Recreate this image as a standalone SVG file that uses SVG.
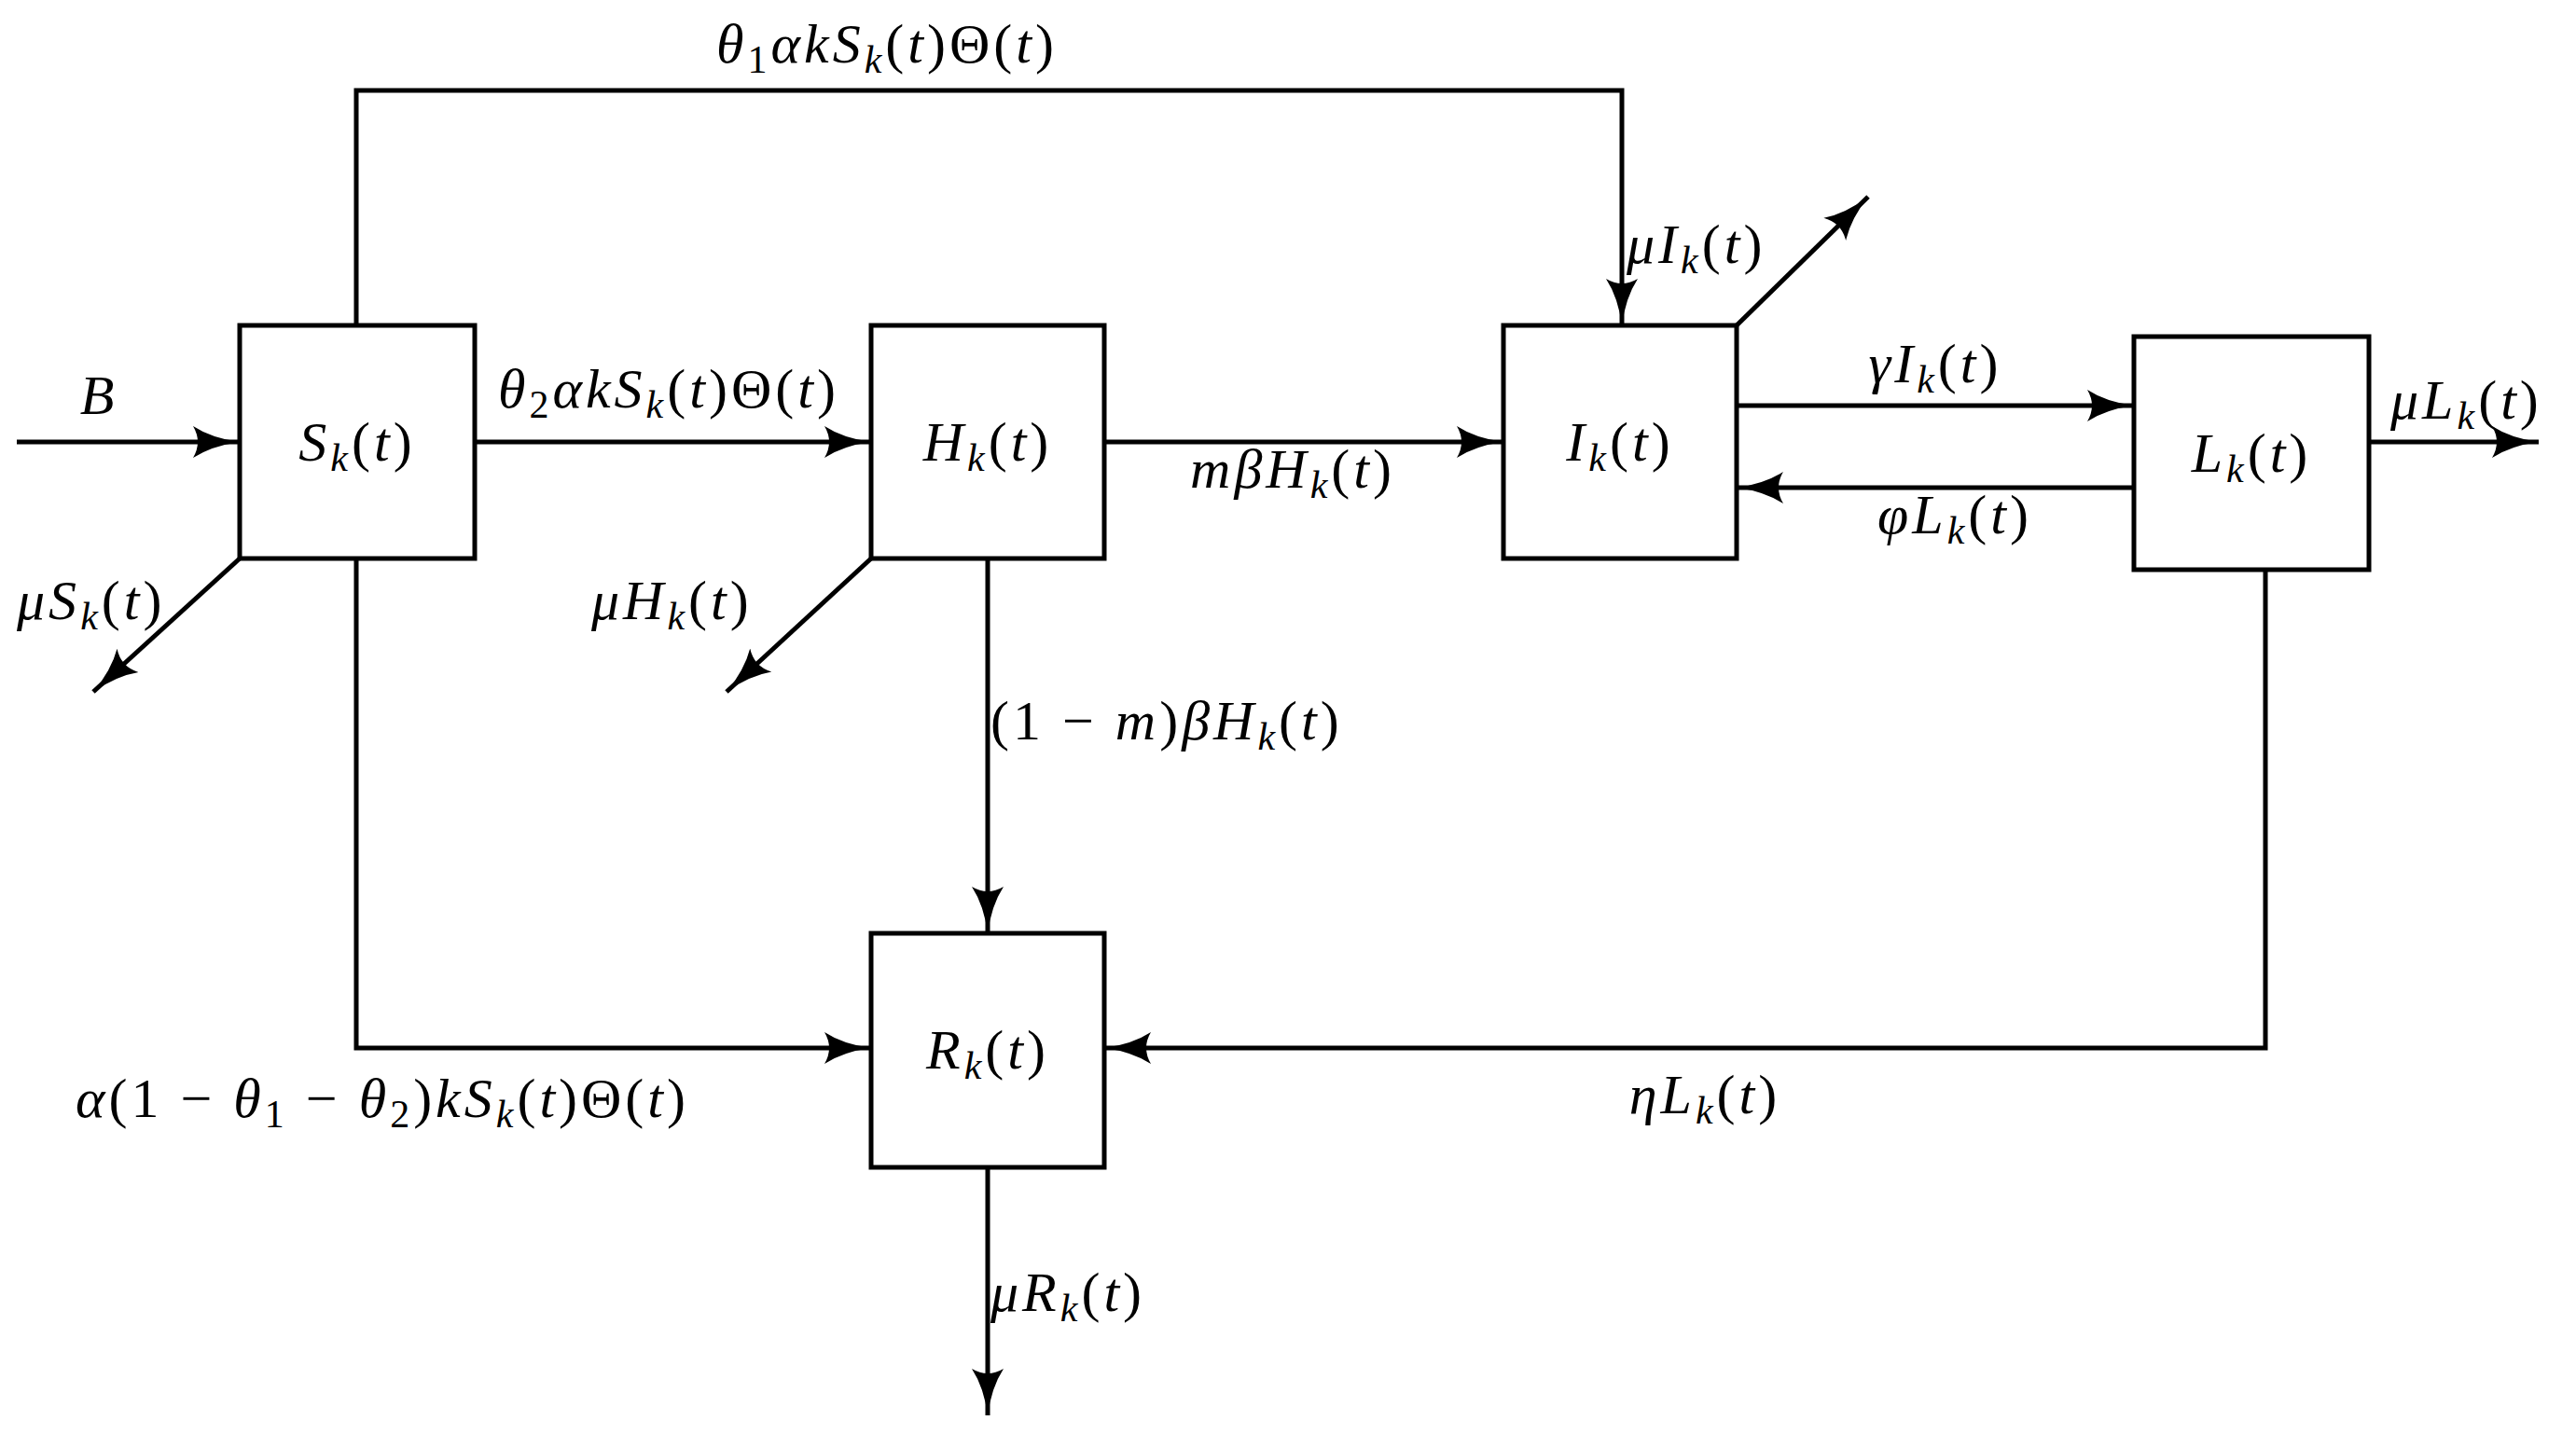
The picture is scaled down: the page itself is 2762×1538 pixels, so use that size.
<svg xmlns="http://www.w3.org/2000/svg" width="2762" height="1538" viewBox="0 0 2762 1538">
<style>
.b{fill:#fff;stroke:#000;stroke-width:5}
.c line,.c polyline{fill:none;stroke:#000;stroke-width:5;marker-end:url(#a)}
text{font-family:"Liberation Serif",serif;font-size:60px;letter-spacing:4px;fill:#000}
.i{font-style:italic}
.s{font-size:42px;baseline-shift:-11px}
</style>
<defs><marker id="a" markerUnits="userSpaceOnUse" markerWidth="60" markerHeight="40" viewBox="0 -20 60 40" refX="50" refY="0" orient="auto"><path d="M0,-17 Q20,-4 50,0 Q20,4 0,17 Q10,0 0,-17z" fill="#000"/></marker></defs>
<g class="c">
<line x1="18" y1="474" x2="257" y2="474"/>
<line x1="509" y1="474" x2="934" y2="474"/>
<line x1="1184" y1="474" x2="1612" y2="474"/>
<polyline points="382,349 382,97 1739,97 1739,349"/>
<line x1="1862" y1="435" x2="2288" y2="435"/>
<line x1="2288" y1="523" x2="1862" y2="523"/>
<line x1="2540" y1="474" x2="2722" y2="474"/>
<line x1="1862" y1="349" x2="2003" y2="211"/>
<line x1="257" y1="599" x2="100" y2="742"/>
<line x1="934" y1="599" x2="779" y2="742"/>
<line x1="1059" y1="599" x2="1059" y2="1001"/>
<polyline points="382,599 382,1124 934,1124"/>
<polyline points="2429,611 2429,1124 1184,1124"/>
<line x1="1059" y1="1252" x2="1059" y2="1518"/>
</g>
<g id="S"><rect class="b" x="257" y="349" width="252" height="250"/><text x="383" y="494" text-anchor="middle"><tspan class="i">S</tspan><tspan class="s i">k</tspan><tspan>(</tspan><tspan class="i">t</tspan>)</text></g>
<g id="H"><rect class="b" x="934" y="349" width="250" height="250"/><text x="1059" y="494" text-anchor="middle"><tspan class="i">H</tspan><tspan class="s i">k</tspan><tspan>(</tspan><tspan class="i">t</tspan>)</text></g>
<g id="I"><rect class="b" x="1612" y="349" width="250" height="250"/><text x="1737" y="494" text-anchor="middle"><tspan class="i">I</tspan><tspan class="s i">k</tspan><tspan>(</tspan><tspan class="i">t</tspan>)</text></g>
<g id="L"><rect class="b" x="2288" y="361" width="252" height="250"/><text x="2414" y="506" text-anchor="middle"><tspan class="i">L</tspan><tspan class="s i">k</tspan><tspan>(</tspan><tspan class="i">t</tspan>)</text></g>
<g id="R"><rect class="b" x="934" y="1001" width="250" height="251"/><text x="1059" y="1146" text-anchor="middle"><tspan class="i">R</tspan><tspan class="s i">k</tspan><tspan>(</tspan><tspan class="i">t</tspan>)</text></g>
<g id="labels">
<text x="951" y="67" text-anchor="middle"><tspan class="i">θ</tspan><tspan class="s">1</tspan><tspan class="i">αkS</tspan><tspan class="s i">k</tspan><tspan>(</tspan><tspan class="i">t</tspan><tspan>)Θ(</tspan><tspan class="i">t</tspan>)</text>
<text x="106" y="444" text-anchor="middle" class="i">B</text>
<text x="534" y="437"><tspan class="i">θ</tspan><tspan class="s">2</tspan><tspan class="i">αkS</tspan><tspan class="s i">k</tspan><tspan>(</tspan><tspan class="i">t</tspan><tspan>)Θ(</tspan><tspan class="i">t</tspan>)</text>
<text x="1386" y="523" text-anchor="middle"><tspan class="i">mβH</tspan><tspan class="s i">k</tspan><tspan>(</tspan><tspan class="i">t</tspan>)</text>
<text x="1744" y="282"><tspan class="i">μI</tspan><tspan class="s i">k</tspan><tspan>(</tspan><tspan class="i">t</tspan>)</text>
<text x="2075" y="410" text-anchor="middle"><tspan class="i">γI</tspan><tspan class="s i">k</tspan><tspan>(</tspan><tspan class="i">t</tspan>)</text>
<text x="2096" y="572" text-anchor="middle"><tspan class="i">φL</tspan><tspan class="s i">k</tspan><tspan>(</tspan><tspan class="i">t</tspan>)</text>
<text x="2563" y="449"><tspan class="i">μL</tspan><tspan class="s i">k</tspan><tspan>(</tspan><tspan class="i">t</tspan>)</text>
<text x="18" y="664"><tspan class="i">μS</tspan><tspan class="s i">k</tspan><tspan>(</tspan><tspan class="i">t</tspan>)</text>
<text x="634" y="664"><tspan class="i">μH</tspan><tspan class="s i">k</tspan><tspan>(</tspan><tspan class="i">t</tspan>)</text>
<text x="1062" y="793">(1 − <tspan class="i">m</tspan>)<tspan class="i">βH</tspan><tspan class="s i">k</tspan><tspan>(</tspan><tspan class="i">t</tspan>)</text>
<text x="410" y="1198" text-anchor="middle"><tspan class="i">α</tspan>(1 − <tspan class="i">θ</tspan><tspan class="s">1</tspan><tspan> − </tspan><tspan class="i">θ</tspan><tspan class="s">2</tspan><tspan>)</tspan><tspan class="i">kS</tspan><tspan class="s i">k</tspan><tspan>(</tspan><tspan class="i">t</tspan><tspan>)Θ(</tspan><tspan class="i">t</tspan>)</text>
<text x="1828" y="1194" text-anchor="middle"><tspan class="i">ηL</tspan><tspan class="s i">k</tspan><tspan>(</tspan><tspan class="i">t</tspan>)</text>
<text x="1062" y="1406"><tspan class="i">μR</tspan><tspan class="s i">k</tspan><tspan>(</tspan><tspan class="i">t</tspan>)</text>
</g>
</svg>
